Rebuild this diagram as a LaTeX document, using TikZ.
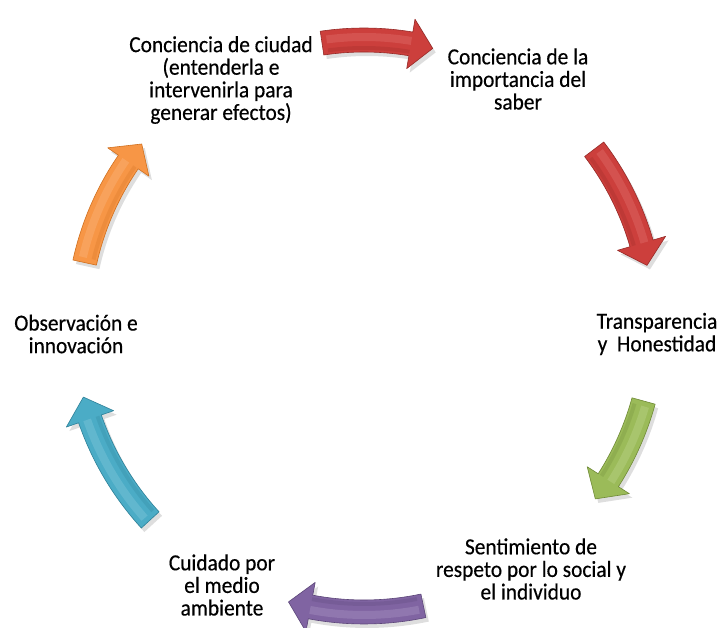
\documentclass[tikz,border=0pt]{standalone}
\usepackage{fontspec}
\setmainfont{Carlito}[FakeStretch=0.93,FakeBold=0.4]
\definecolor{redA}{HTML}{CC3F3C}\definecolor{redD}{HTML}{962A27}\definecolor{redL}{HTML}{E8817E}
\definecolor{grnA}{HTML}{9BBB59}\definecolor{grnD}{HTML}{6F8A36}\definecolor{grnL}{HTML}{C8DD9E}
\definecolor{purA}{HTML}{8064A2}\definecolor{purD}{HTML}{5C4679}\definecolor{purL}{HTML}{B8A6CF}
\definecolor{cyaA}{HTML}{4BACC6}\definecolor{cyaD}{HTML}{2E8199}\definecolor{cyaL}{HTML}{95D3E3}
\definecolor{ornA}{HTML}{F79646}\definecolor{ornD}{HTML}{D0701F}\definecolor{ornL}{HTML}{FBC08F}
\newcommand\carrow[6]{%
 \pgfmathsetmacro\cbb{#5+4.5}%
 \pgfmathsetmacro\cro{#6+12}\pgfmathsetmacro\cri{#6-12}%
 \pgfmathsetmacro\crho{#6+25}\pgfmathsetmacro\crhi{#6-25}%
 \pgfmathsetmacro\crm{#6+3}\pgfmathsetmacro\crd{#6-8}\pgfmathsetmacro\cas{#4-1}%
 \fill[black,opacity=.13,shift={(3,-4)}] (#4:\cro) arc[start angle=#4,end angle=\cbb,radius=\cro] -- (\cbb:\crho) -- (#5:#6) -- (\cbb:\crhi) -- (\cbb:\cri) arc[start angle=\cbb,end angle=#4,radius=\cri] -- cycle;
 \fill[#1,draw=#2,line width=.6,line join=round] (#4:\cro) arc[start angle=#4,end angle=\cbb,radius=\cro] -- (\cbb:\crho) -- (#5:#6) -- (\cbb:\crhi) -- (\cbb:\cri) arc[start angle=\cbb,end angle=#4,radius=\cri] -- cycle;
 \draw[#3,line width=8,opacity=.3,line cap=butt] (\cas:\crm) arc[start angle=\cas,end angle=\cbb,radius=\crm];
 \draw[#2,line width=4,opacity=.25,line cap=butt] (\cas:\crd) arc[start angle=\cas,end angle=\cbb,radius=\crd];
}
\tikzset{lbl/.style={align=center,inner sep=0pt,font=\fontsize{23}{22.6}\selectfont,text=black}}
\begin{document}
\begin{tikzpicture}[x=1pt,y=1pt]
\useasboundingbox (0,0) rectangle (724,628);
\fill[white] (0,0) rectangle (724,628);
\begin{scope}[shift={(364,304)}]
 \carrow{redA}{redD}{redL}{98.5}{76}{284}
 \carrow{redA}{redD}{redL}{37.2}{11.7}{289}
 \carrow{grnA}{grnD}{grnL}{-15.4}{-37.1}{290}
 \carrow{purA}{purD}{purL}{-78.1}{-105.2}{288}
 \carrow{cyaA}{cyaD}{cyaL}{222.5}{194.6}{290}
 \carrow{ornA}{ornD}{ornL}{167.6}{141}{286}
\end{scope}
\node[lbl] (n1) at (221,548) {Conciencia de ciudad\\(entenderla e\\intervenirla para\\generar efectos)};
\node[lbl] (n2) at (518,549) {Conciencia de la\\importancia del\\saber};
\node[lbl] (n3) at (657,294) {Transparencia\\y\ \ Honestidad};
\node[lbl] (n4) at (531,59) {Sentimiento de\\respeto por lo social y\\el individuo};
\node[lbl] (n5) at (222,43) {Cuidado por\\el medio\\ambiente};
\node[lbl] (n6) at (76,294) {Observación e\\innovación};
\end{tikzpicture}
\end{document}
